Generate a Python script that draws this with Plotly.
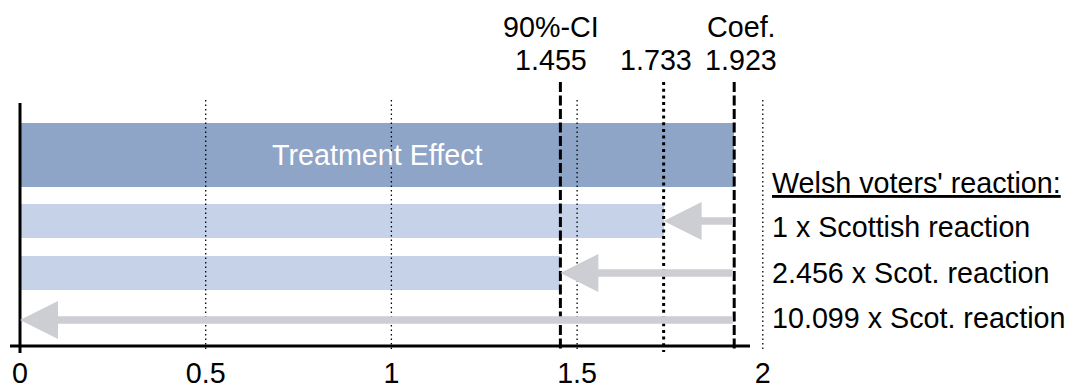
import plotly.graph_objects as go

# ---- data ----
coef = 1.923
ci_low = 1.455
mid_val = 1.733
bar_labels = ["Treatment Effect", "1 x Scottish reaction", "2.456 x Scot. reaction", "10.099 x Scot. reaction"]
bar_values = [coef, mid_val, ci_low]          # bar ends
arrow_targets = [mid_val, ci_low, 0.0]        # arrows from coef to these
ref_lines = [ci_low, mid_val, coef]
ref_line_styles = ["dash", "dot", "dash"]
top_label_1 = ["90%-CI", "", "Coef."]
top_label_2 = ["1.455", "1.733", "1.923"]
header = "Welsh voters' reaction:"
tick_vals = [0, 0.5, 1, 1.5, 2]
tick_text = ["0", "0.5", "1", "1.5", "2"]
grid_vals = [0.5, 1, 1.5, 2]

# ---- layout constants (y axis in page pixels, top = 0) ----
PAGE_W, PAGE_H = 1075, 387
OFF = 8                       # default body margin of the html page
W, H = PAGE_W - OFF, PAGE_H - OFF
PX_PER_UNIT = 371.4
X0_PX = 20
AXIS_Y = 346
row_y = [155, 221, 273, 320]
bar_width = [64, 34, 34]
text_y = [183, 227, 273, 318]
FONT = "Liberation Sans, Arial, sans-serif"
FS = 28.7
C_DARK = "#8FA5C7"
C_LIGHT = "#C5D2E8"
C_ARROW = "#CDCED3"

xr = [(OFF - X0_PX) / PX_PER_UNIT, (PAGE_W - X0_PX) / PX_PER_UNIT]

fig = go.Figure()
fig.add_trace(go.Bar(
    x=bar_values, y=row_y[:3], base=0, width=bar_width, orientation="h",
    marker=dict(color=[C_DARK, C_LIGHT, C_LIGHT], line=dict(width=0)),
    hoverinfo="skip", showlegend=False,
))

shapes = []
# dotted grid lines
for g in grid_vals:
    shapes.append(dict(type="line", xref="x", yref="y", x0=g, x1=g, y0=100, y1=352,
                       line=dict(color="black", width=1.3, dash="1.5px,3px"), layer="above"))
# reference lines
for v, st in zip(ref_lines, ref_line_styles):
    dash = "10px,3.5px" if st == "dash" else "3px,3.7px"
    shapes.append(dict(type="line", xref="x", yref="y", x0=v, x1=v, y0=82, y1=352,
                       line=dict(color="black", width=3, dash=dash), layer="above"))
# axes lines
shapes.append(dict(type="line", xref="x", yref="y", x0=0, x1=0, y0=103, y1=353,
                   line=dict(color="black", width=3), layer="above"))
shapes.append(dict(type="line", xref="x", yref="y", x0=-10 / PX_PER_UNIT, x1=(750 - X0_PX) / PX_PER_UNIT,
                   y0=AXIS_Y, y1=AXIS_Y, line=dict(color="black", width=3), layer="above"))

annotations = []
# arrows
for tgt, yy in zip(arrow_targets, row_y[1:]):
    annotations.append(dict(x=tgt, y=yy, ax=coef, ay=yy, xref="x", yref="y", axref="x", ayref="y",
                            text="", showarrow=True, arrowhead=2, arrowwidth=7.5, arrowsize=1.013,
                            arrowcolor=C_ARROW, standoff=0))
# treatment label
annotations.append(dict(x=coef / 2, y=row_y[0], xref="x", yref="y", text=bar_labels[0],
                        showarrow=False, font=dict(family=FONT, size=FS, color="white")))
# top labels
shifts = [-9, -8, 7]
for v, t1, t2, s in zip(ref_lines, top_label_1, top_label_2, shifts):
    if t1:
        annotations.append(dict(x=v, y=27, xref="x", yref="y", text=t1, showarrow=False, xshift=s,
                                font=dict(family=FONT, size=FS, color="black")))
    annotations.append(dict(x=v, y=60, xref="x", yref="y", text=t2, showarrow=False, xshift=s,
                            font=dict(family=FONT, size=FS, color="black")))
# right labels
xr_text = (773 - X0_PX) / PX_PER_UNIT
annotations.append(dict(x=xr_text, y=text_y[0], xref="x", yref="y", text="<u>" + header + "</u>",
                        showarrow=False, xanchor="left", xshift=-3,
                        font=dict(family=FONT, size=FS, color="black")))
for lab, yy in zip(bar_labels[1:], text_y[1:]):
    annotations.append(dict(x=xr_text, y=yy, xref="x", yref="y", text=lab, showarrow=False,
                            xanchor="left", xshift=-3, font=dict(family=FONT, size=FS, color="black")))

fig.update_layout(
    template="none",
    width=W, height=H, margin=dict(l=0, r=0, t=0, b=0, autoexpand=False),
    paper_bgcolor="white", plot_bgcolor="white",
    shapes=shapes, annotations=annotations, bargap=0,
    xaxis=dict(range=xr, anchor="free", position=(PAGE_H - AXIS_Y) / H, showline=False, showgrid=False,
               automargin=False,
               zeroline=False, tickvals=tick_vals, ticktext=tick_text, ticks="outside", ticklen=2,
               tickcolor="rgba(0,0,0,0)", tickfont=dict(family=FONT, size=FS, color="black"),
               fixedrange=True),
    yaxis=dict(range=[PAGE_H, OFF], visible=False, showgrid=False, zeroline=False, fixedrange=True,
               automargin=False, domain=[0, 1]),
    showlegend=False,
)
fig.write_html("out.html", config={"displayModeBar": False})
